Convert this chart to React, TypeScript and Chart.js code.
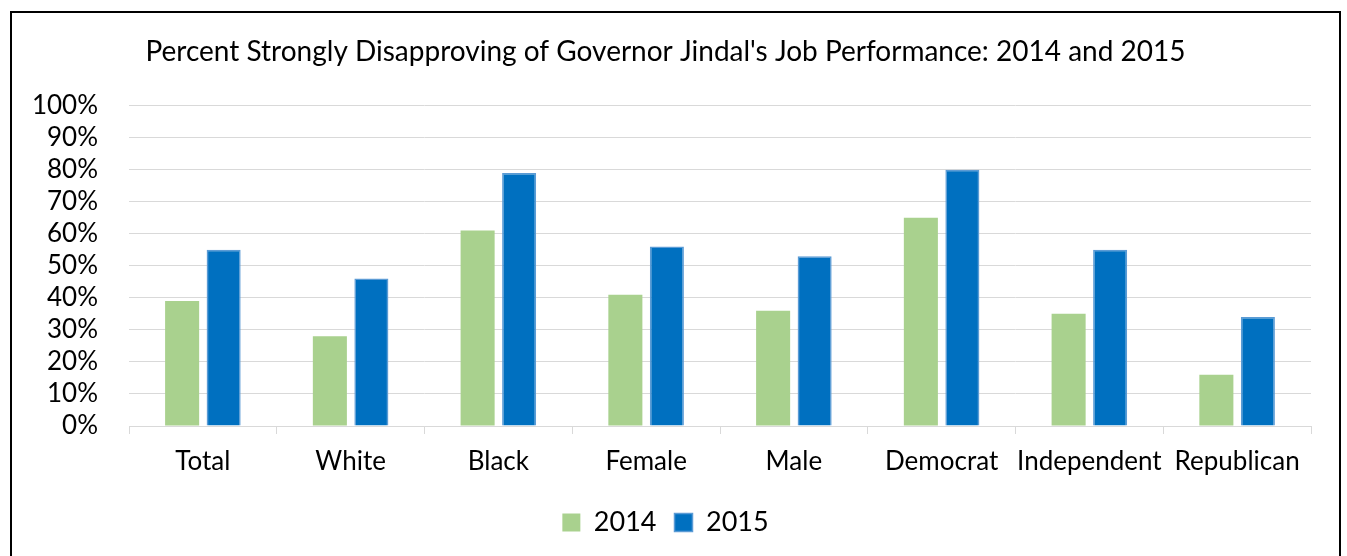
import React, { useEffect, useRef } from "react";
import { Chart, registerables } from "chart.js";

Chart.register(...registerables);

const categories = ["Total", "White", "Black", "Female", "Male", "Democrat", "Independent", "Republican"];
const values2014 = [39, 28, 61, 41, 36, 65, 35, 16];
const values2015 = [55, 46, 79, 56, 53, 80, 55, 34];
const seriesLabels = ["2014", "2015"];
const titleText = "Percent Strongly Disapproving of Governor Jindal's Job Performance: 2014 and 2015";

const FONT = "Lato, 'Noto Sans', sans-serif";

export default function App() {
  const ref = useRef<HTMLCanvasElement | null>(null);

  useEffect(() => {
    if (!ref.current) return;
    const chart = new Chart(ref.current, {
      type: "bar",
      data: {
        labels: categories,
        datasets: [
          {
            label: seriesLabels[0],
            data: values2014,
            backgroundColor: "#a9d18e",
            borderColor: "#a9d18e",
            borderWidth: 0,
            categoryPercentage: 0.562,
            barPercentage: 0.82,
          },
          {
            label: seriesLabels[1],
            data: values2015,
            backgroundColor: "#0070c0",
            borderColor: "#5b9bd5",
            borderWidth: 1.5,
            categoryPercentage: 0.562,
            barPercentage: 0.82,
          },
        ],
      },
      options: {
        responsive: false,
        animation: false,
        devicePixelRatio: 1,
        layout: { padding: { left: 20, right: 36, top: 0, bottom: 10 } },
        plugins: {
          title: {
            display: true,
            text: titleText,
            color: "#000",
            font: { family: FONT, size: 28, weight: "normal" },
            padding: { top: 35, bottom: 37 },
          },
          legend: {
            position: "bottom",
            labels: {
              color: "#000",
              font: { family: FONT, size: 27 },
              boxWidth: 18,
              boxHeight: 18,
              padding: 18,
            },
          },
          tooltip: { enabled: false },
        },
        scales: {
          x: {
            grid: {
              offset: true,
              drawOnChartArea: false,
              drawTicks: true,
              tickLength: 8,
              color: "#d9d9d9",
            },
            border: { display: true, color: "#d9d9d9", width: 1 },
            ticks: {
              color: "#000",
              font: { family: FONT, size: 26 },
              padding: 12,
              maxRotation: 0,
              autoSkip: false,
            },
            afterFit: (scale: any) => {
              scale.height = 65;
            },
          },
          y: {
            min: 0,
            max: 100,
            grid: { color: "#d9d9d9", drawTicks: false, lineWidth: 1 },
            border: { display: false },
            ticks: {
              stepSize: 10,
              autoSkip: false,
              color: "#000",
              font: { family: FONT, size: 26 },
              padding: 31,
              callback: (v: any) => v + "%",
            },
            afterFit: (scale: any) => {
              scale.width = 109;
            },
          },
        },
      },
    });
    return () => chart.destroy();
  }, []);

  return (
    <div style={{ position: "absolute", left: 0, top: 0, width: 1347, height: 556, background: "#fff", overflow: "hidden" }}>
      <canvas ref={ref} width={1347} height={556} style={{ position: "absolute", left: 0, top: 0, width: 1347, height: 556 }} />
      <div
        style={{
          position: "absolute",
          left: 10,
          top: 11,
          width: 1331,
          height: 600,
          border: "2px solid #000",
          boxSizing: "border-box",
          pointerEvents: "none",
        }}
      />
    </div>
  );
}
